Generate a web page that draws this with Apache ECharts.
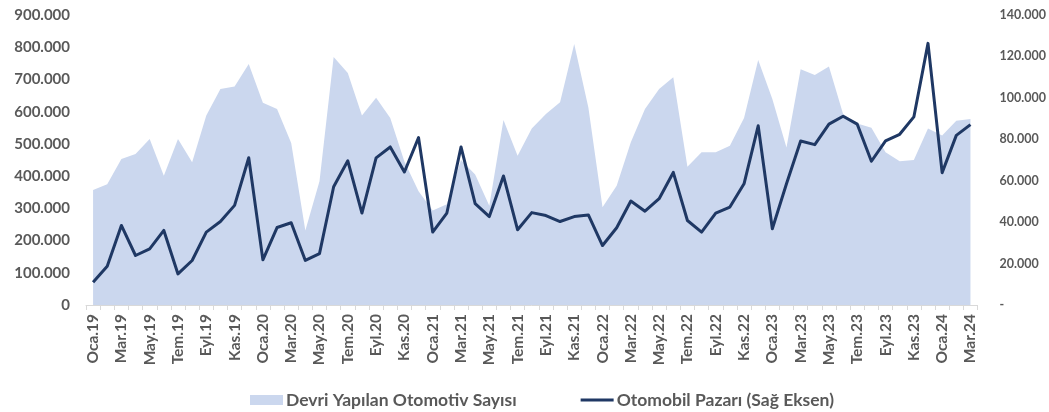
<!DOCTYPE html>
<html>
<head>
<meta charset="utf-8">
<script src="https://cdn.jsdelivr.net/npm/echarts@6/dist/echarts.min.js"></script>
<style>
  html, body { margin: 0; padding: 0; background: #ffffff; }
  #chart { width: 1049px; height: 412px; }
</style>
</head>
<body>
<div id="chart"></div>
<script>
// Monthly categories, Oca.19 – Mar.24
const monthNames = ['Oca', 'Şub', 'Mar', 'Nis', 'May', 'Haz', 'Tem', 'Ağu', 'Eyl', 'Eki', 'Kas', 'Ara'];
const years = ['19', '20', '21', '22', '23', '24'];
const categories = [];
years.forEach(function (y) {
  monthNames.forEach(function (m) { categories.push(m + '.' + y); });
});
categories.length = 63;

// Devri Yapılan Otomotiv Sayısı (left axis)
const transfers = [
  357000, 375000, 453000, 469000, 515000, 401000, 515000, 443000, 588000, 670000, 678000, 748000,
  628000, 608000, 503000, 231000, 384000, 770000, 720000, 588000, 643000, 580000, 445000, 353000,
  293000, 313000, 450000, 405000, 308000, 574000, 463000, 548000, 593000, 629000, 810000, 613000,
  303000, 370000, 505000, 608000, 670000, 707000, 429000, 474000, 474000, 494000, 580000, 760000,
  639000, 489000, 732000, 714000, 740000, 593000, 563000, 550000, 474000, 446000, 450000, 548000,
  526000, 572000, 577000
];

// Otomobil Pazarı (right axis)
const carMarket = [
  11000, 18700, 38400, 23900, 27100, 36000, 15000, 21500, 35200, 40300, 48100, 71100,
  21800, 37400, 39700, 21500, 24800, 57100, 69600, 44400, 71000, 76300, 64200, 80800,
  35200, 44400, 76300, 48900, 42700, 62300, 36300, 44600, 43200, 40300, 42700, 43500,
  28700, 37300, 50200, 45300, 51300, 64000, 40800, 35200, 44400, 47300, 58500, 86500,
  36800, 58500, 79200, 77400, 87300, 91100, 87300, 69400, 79200, 82400, 90800, 126300,
  63900, 81900, 87100
];

const seriesNames = ['Devri Yapılan Otomotiv Sayısı', 'Otomobil Pazarı (Sağ Eksen)'];

function dotted(v) {
  return String(v).replace(/\B(?=(\d{3})+(?!\d))/g, '.');
}

const FONT = 'Lato, "Open Sans", sans-serif';
const TEXT = '#595959';

const chart = echarts.init(document.getElementById('chart'), null, { renderer: 'canvas' });
chart.setOption({
  animation: false,
  backgroundColor: '#ffffff',
  textStyle: { fontFamily: FONT },
  grid: { left: 86, right: 66, top: 15, bottom: 107, containLabel: false },
  legend: {
    left: 250,
    top: 391,
    padding: 0,
    itemWidth: 33,
    itemHeight: 10,
    itemGap: 64,
    symbolKeepAspect: true,
    textStyle: { color: TEXT, fontSize: 17.5, fontWeight: 'bold', fontFamily: FONT, padding: [0, 0, 0, -2] },
    data: [
      { name: seriesNames[0], icon: 'rect' },
      { name: seriesNames[1], icon: 'path://M0,0H33V3H0Z' }
    ]
  },
  xAxis: {
    type: 'category',
    data: categories,
    boundaryGap: true,
    axisLine: { show: true, lineStyle: { color: '#d9d9d9', width: 1 } },
    axisTick: { show: true, interval: 0, length: 5, lineStyle: { color: '#d9d9d9' } },
    axisLabel: {
      interval: 1,
      rotate: 90,
      margin: 9,
      color: TEXT,
      fontSize: 15.5,
      fontWeight: 'bold',
      fontFamily: FONT
    },
    splitLine: { show: false }
  },
  yAxis: [
    {
      type: 'value',
      min: 0,
      max: 900000,
      interval: 100000,
      axisLine: { show: false },
      axisTick: { show: false },
      splitLine: { show: false },
      axisLabel: {
        margin: 16,
        color: TEXT,
        fontSize: 15,
        fontWeight: 'bold',
        fontFamily: FONT,
        formatter: function (v) { return dotted(v); }
      }
    },
    {
      type: 'value',
      min: 0,
      max: 140000,
      interval: 20000,
      position: 'right',
      axisLine: { show: false },
      axisTick: { show: false },
      splitLine: { show: false },
      axisLabel: {
        margin: 22,
        color: TEXT,
        fontSize: 12.5,
        fontWeight: 'bold',
        fontFamily: FONT,
        formatter: function (v) { return v === 0 ? '-' : dotted(v); }
      }
    }
  ],
  series: [
    {
      name: seriesNames[0],
      type: 'line',
      yAxisIndex: 0,
      data: transfers,
      symbol: 'none',
      color: '#cbd7ee',
      lineStyle: { width: 0, color: '#cbd7ee' },
      areaStyle: { color: '#cbd7ee', opacity: 1 },
      z: 1
    },
    {
      name: seriesNames[1],
      type: 'line',
      yAxisIndex: 1,
      data: carMarket,
      symbol: 'none',
      color: '#1f3864',
      lineStyle: { width: 3, color: '#1f3864', join: 'round' },
      z: 3
    }
  ]
});
</script>
</body>
</html>
